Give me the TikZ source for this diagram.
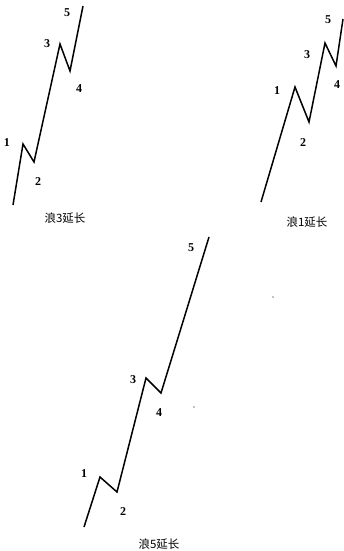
\documentclass[tikz,border=0pt]{standalone}
\usepackage{fontspec}
\setmainfont{Liberation Serif}
\newfontfamily\cjk{Noto Sans CJK SC}
\begin{document}
\begin{tikzpicture}[x=1pt,y=-1pt,
  wave/.style={line width=1.5pt,line join=miter},
  lab/.style={font=\bfseries\fontsize{12}{12}\selectfont,inner sep=0pt},
  captxt/.style={font=\cjk\fontsize{11.5}{12}\selectfont,inner sep=0pt}]
\useasboundingbox (0,0) rectangle (344,551);
% panel 1: wave 3 extended
\coordinate (a0) at (13,205);
\coordinate (a1) at (23,144);
\coordinate (a2) at (34,162);
\coordinate (a3) at (60,44);
\coordinate (a4) at (70,71);
\coordinate (a5) at (83,6);
\draw[wave] (a0) -- (a1) -- (a2) -- (a3) -- (a4) -- (a5);
\node[lab] (la1) at (7,143) {1};
\node[lab] (la2) at (38,182) {2};
\node[lab] (la3) at (47,44) {3};
\node[lab] (la4) at (79,89) {4};
\node[lab] (la5) at (67,13) {5};
\node[captxt] (ca) at (65,218) {浪3延长};
% panel 2: wave 1 extended
\coordinate (b0) at (261,202);
\coordinate (b1) at (295,87);
\coordinate (b2) at (309,122);
\coordinate (b3) at (325,43);
\coordinate (b4) at (336,66);
\coordinate (b5) at (343,19);
\draw[wave] (b0) -- (b1) -- (b2) -- (b3) -- (b4) -- (b5);
\node[lab] (lb1) at (277,91) {1};
\node[lab] (lb2) at (303,143) {2};
\node[lab] (lb3) at (307,55) {3};
\node[lab] (lb4) at (337,85) {4};
\node[lab] (lb5) at (328,20) {5};
\node[captxt] (cb) at (307,222) {浪1延长};
% panel 3: wave 5 extended
\coordinate (c0) at (84,527);
\coordinate (c1) at (100,477);
\coordinate (c2) at (117,492);
\coordinate (c3) at (146,378);
\coordinate (c4) at (161,393);
\coordinate (c5) at (209,237);
\draw[wave] (c0) -- (c1) -- (c2) -- (c3) -- (c4) -- (c5);
\node[lab] (lc1) at (84,474) {1};
\node[lab] (lc2) at (123,512) {2};
\node[lab] (lc3) at (133,380) {3};
\node[lab] (lc4) at (159,413) {4};
\node[lab] (lc5) at (191,248) {5};
\node[captxt] (cc) at (159,544) {浪5延长};
% specks
\fill (273,297) circle (0.6);
\fill (194,407) circle (0.6);
\end{tikzpicture}
\end{document}
